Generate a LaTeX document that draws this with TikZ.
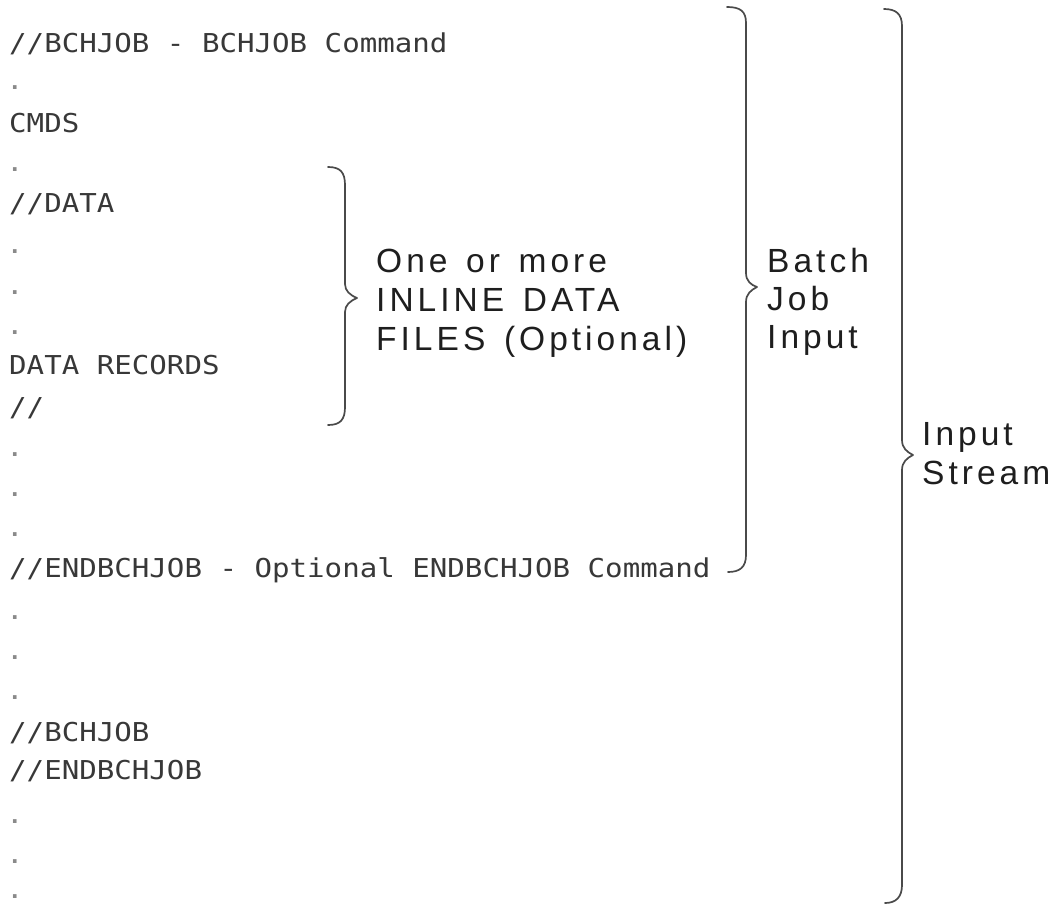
\documentclass[tikz,border=0pt]{standalone}
\usepackage{fontspec}
\newfontfamily\monof{DejaVu Sans Mono}[FakeStretch=1.12]
\newfontfamily\labf{Liberation Sans}[LetterSpace=12,WordSpace=1.4]
\definecolor{codecol}{HTML}{383838}
\definecolor{dotcol}{HTML}{8A8A8A}
\definecolor{labcol}{HTML}{1E1E1E}
\definecolor{bracecol}{HTML}{4A4A4A}
\begin{document}
\begin{tikzpicture}[x=1pt,y=-1pt,
  codetxt/.style={anchor=base west,inner sep=0pt,font=\monof\fontsize{26}{30}\selectfont,text=codecol},
  dottxt/.style={codetxt,text=dotcol},
  labtxt/.style={anchor=base west,inner sep=0pt,font=\labf\fontsize{33.5}{38}\selectfont,text=labcol},
  bracepath/.style={draw=bracecol,line width=1.7pt,line cap=round,line join=round}]
\fill[white] (0,0) rectangle (1051,905);
\useasboundingbox (0,0) rectangle (1051,905);

% left column
\node[codetxt] (l1) at (9,52.5) {//BCHJOB - BCHJOB Command};
\node[dottxt] (d1) at (6,89.5) {.};
\node[codetxt] (l2) at (9,132.5) {CMDS};
\node[dottxt] (d2) at (6,171.5) {.};
\node[codetxt] (l3) at (9,212.5) {//DATA};
\node[dottxt] (d3) at (6,253.5) {.};
\node[dottxt] (d4) at (6,294.5) {.};
\node[dottxt] (d5) at (6,334.5) {.};
\node[codetxt] (l4) at (9,374.5) {DATA RECORDS};
\node[codetxt] (l5) at (9,416.5) {//};
\node[dottxt] (d6) at (6,456.5) {.};
\node[dottxt] (d7) at (6,496.5) {.};
\node[dottxt] (d8) at (6,536.5) {.};
\node[codetxt] (l6) at (9,577.5) {//ENDBCHJOB - Optional ENDBCHJOB Command};
\node[dottxt] (d9) at (6,619.5) {.};
\node[dottxt] (d10) at (6,659.5) {.};
\node[dottxt] (d11) at (6,699.5) {.};
\node[codetxt] (l7) at (9,741.5) {//BCHJOB};
\node[codetxt] (l8) at (9,779.5) {//ENDBCHJOB};
\node[dottxt] (d12) at (6,823.5) {.};
\node[dottxt] (d13) at (6,863.5) {.};
\node[dottxt] (d14) at (6,898) {.};

% inner brace
\path[bracepath] (328,167) .. controls (340,167) and (345,172) .. (345,185)
  -- (345,284) .. controls (345,291) and (350,295) .. (357,298)
  .. controls (350,301) and (345,305) .. (345,312)
  -- (345,407) .. controls (345,420) and (340,425) .. (328,425);
\node[labtxt] (i1) at (376,272) {One or more};
\node[labtxt] (i2) at (376,311) {INLINE DATA};
\node[labtxt] (i3) at (376,350) {FILES (Optional)};

% batch job brace
\path[bracepath] (727,7) .. controls (740,7) and (746,11) .. (746,23)
  -- (746,273) .. controls (746,281) and (751,285) .. (757,287)
  .. controls (751,290) and (746,294) .. (746,302)
  -- (746,555) .. controls (746,567) and (740,572) .. (728,572);
\node[labtxt] (b1) at (767,272) {Batch};
\node[labtxt] (b2) at (767,310) {Job};
\node[labtxt] (b3) at (767,348) {Input};

% input stream brace
\path[bracepath] (884,9) .. controls (896,9) and (902,14) .. (902,26)
  -- (902,440) .. controls (902,448) and (907,452) .. (913,455)
  .. controls (907,458) and (902,462) .. (902,470)
  -- (902,885) .. controls (902,897) and (896,903) .. (885,903);
\node[labtxt] (s1) at (922,445) {Input};
\node[labtxt] (s2) at (922,484) {Stream};
\end{tikzpicture}
\end{document}
